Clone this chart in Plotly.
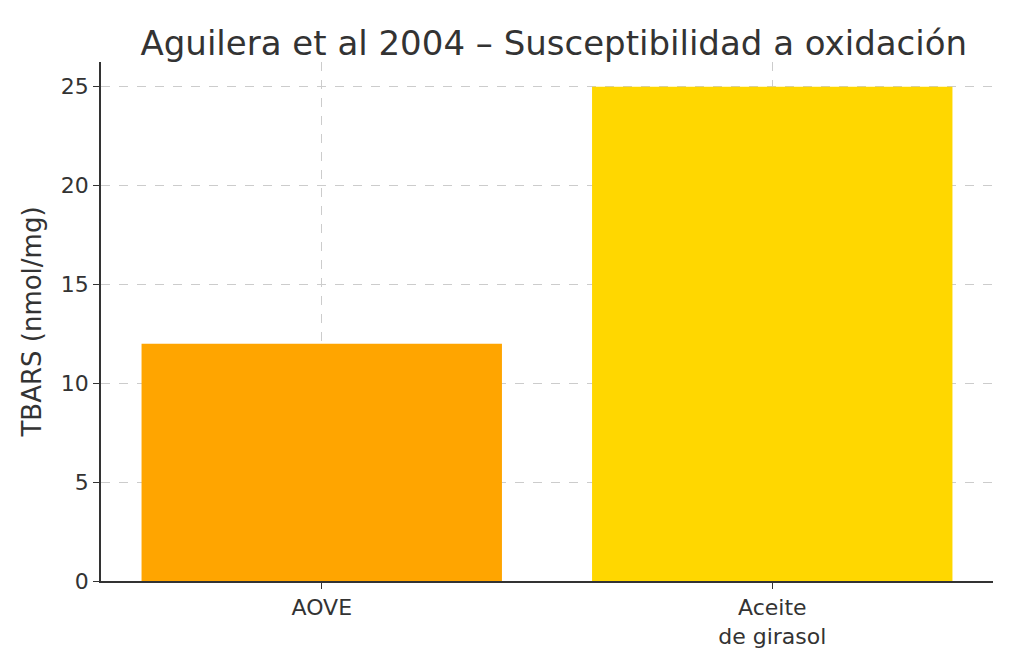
import plotly.graph_objects as go

# data
categories = ["AOVE", "Aceite<br>de girasol"]
tbars = [12, 25]
bar_colors = ["#FFA500", "#FFD700"]
positions = [0, 1]

fig = go.Figure()
fig.add_trace(go.Bar(x=positions, y=tbars, width=0.8,
                     marker=dict(color=bar_colors, line=dict(width=0)),
                     showlegend=False))

fig.update_layout(
    width=1024, height=667,
    plot_bgcolor="white", paper_bgcolor="white",
    font=dict(family="DejaVu Sans", size=22, color="#333333"),
    title=dict(text="Aguilera et al 2004 – Susceptibilidad a oxidación",
               x=0.533, xanchor="center", y=0.947, yanchor="middle",
               font=dict(size=34, color="#333333")),
    margin=dict(l=93, r=39, t=54, b=94),
)
fig.update_xaxes(range=[-0.49, 1.49], tickvals=positions, ticktext=categories,
                 showline=True, linecolor="#333333", linewidth=1.5,
                 ticks="outside", ticklen=6, tickcolor="#333333",
                 showgrid=True, gridcolor="#cccccc", griddash="dash", gridwidth=1,
                 zeroline=False)
fig.update_yaxes(range=[0, 26.25], tickvals=[0, 5, 10, 15, 20, 25],
                 title=dict(text="TBARS (nmol/mg)", standoff=12),
                 showline=True, linecolor="#333333", linewidth=1.5,
                 ticks="outside", ticklen=6, tickcolor="#333333",
                 showgrid=True, gridcolor="#cccccc", griddash="dash", gridwidth=1,
                 zeroline=False)

fig.write_html("out.html")
